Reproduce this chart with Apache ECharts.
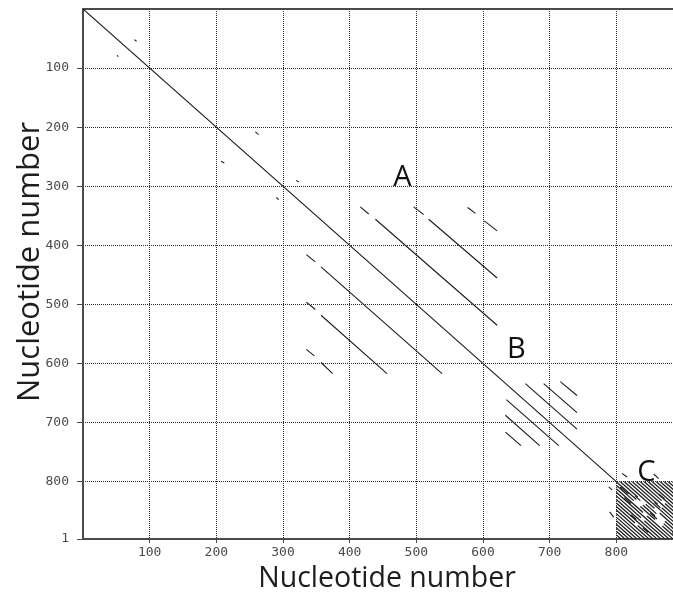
<!DOCTYPE html>
<html>
<head>
<meta charset="utf-8">
<script src="https://cdn.jsdelivr.net/npm/echarts@6/dist/echarts.min.js"></script>
<style>
html,body{margin:0;padding:0;background:#fff;}
#chart{width:673px;height:596px;}
</style>
</head>
<body>
<div id="chart"></div>
<script>
// ---- data (nucleotide positions: [x1, y1, x2, y2]) ----
var xTickLabels = [100, 200, 300, 400, 500, 600, 700, 800];
var yTickLabels = [100, 200, 300, 400, 500, 600, 700, 800];
var xMax = 900;
var yMax = 897;

var mainDiagonal = [[0, 0, 800, 800]];

var clusterAUpper = [
  [416, 335, 428.6, 347],
  [438.6, 355.8, 621.2, 535.2],
  [496, 335, 511, 348],
  [518.5, 355.8, 621.2, 455.2],
  [577, 336, 588.6, 346],
  [602, 358.7, 621.2, 375.6]
];
var clusterALower = [
  [335, 415.6, 348.5, 428],
  [357, 436.5, 538.6, 617],
  [335, 496, 348.5, 508.6],
  [357, 518.3, 456, 617],
  [335, 576, 347, 587],
  [357, 598.3, 374.5, 617]
];
var clusterB = [
  [716, 630.6, 741, 654.2],
  [691, 634, 741, 683],
  [663.6, 634, 741, 711],
  [635, 661, 713.6, 739],
  [633.6, 687.5, 685, 739],
  [633.6, 716, 657, 739]
];
var scattered = [
  [77, 51.8, 80.4, 54.6],
  [51, 78.5, 53, 80.5],
  [258.5, 208, 263.5, 212.5],
  [207, 257.7, 212, 260.6],
  [320, 290, 323.5, 292.7],
  [290, 319, 293.5, 322.5],
  [808.6, 786, 816, 792],
  [856, 787, 863.6, 794.7],
  [788.6, 808.8, 793.6, 814],
  [790, 851, 796, 860]
];
var clusterC = [
  [800, 890, 807, 897],
  [800, 884, 813, 897],
  [800, 878, 819, 897],
  [800, 872, 825, 897],
  [800, 866, 831, 897],
  [800, 860, 837, 897],
  [800, 854, 843, 897],
  [800, 848, 849, 897],
  [800, 842, 828, 870], [832, 874, 855, 897],
  [800, 836, 861, 897],
  [800, 830, 867, 897],
  [800, 824, 837, 861], [842, 866, 873, 897],
  [800, 818, 879, 897],
  [800, 812, 840, 852], [846, 858, 885, 897],
  [800, 806, 826, 832], [836, 842, 858, 864], [869, 875, 891, 897],
  [800, 800, 830, 830], [840, 840, 858, 858], [871, 871, 897, 897],
  [806, 800, 832, 826], [844, 838, 860, 854], [873, 867, 900, 894],
  [812, 800, 857, 845], [865, 853, 900, 888],
  [818, 800, 900, 882],
  [824, 800, 862, 838], [868, 844, 900, 876],
  [830, 800, 900, 870],
  [836, 800, 868, 832], [873, 837, 900, 864],
  [842, 800, 900, 858],
  [848, 800, 900, 852],
  [854, 800, 900, 846],
  [860, 800, 900, 840],
  [866, 800, 900, 834],
  [872, 800, 900, 828],
  [878, 800, 900, 822],
  [884, 800, 900, 816],
  [806, 809, 818, 821], [812, 827, 822, 837], [851, 853, 861, 863],
  [828, 824, 836, 832], [857, 835, 866, 844], [822, 856, 830, 864],
  [884, 886, 892, 894], [864, 821, 872, 829], [840, 878, 848, 886]
];

var annotationLetters = ['A', 'B', 'C'];
var annotationPositions = [[479, 286], [650, 577.5], [845, 785]];

// ---- chart ----
var chart = echarts.init(document.getElementById('chart'), null, {renderer: 'canvas'});

function segSeries(data, lw) {
  return {
    type: 'custom',
    xAxisIndex: 0,
    yAxisIndex: 0,
    silent: true,
    clip: true,
    encode: {x: [0, 2], y: [1, 3]},
    data: data,
    renderItem: function (params, api) {
      var p1 = api.coord([api.value(0), api.value(1)]);
      var p2 = api.coord([api.value(2), api.value(3)]);
      return {
        type: 'line',
        shape: {x1: p1[0], y1: p1[1], x2: p2[0], y2: p2[1]},
        style: {stroke: '#1c1c1c', lineWidth: lw}
      };
    }
  };
}

var tickFont = {fontFamily: 'DejaVu Sans Mono', fontSize: 13, color: '#4a4a4a'};
var yTickValues = yTickLabels.concat([yMax]);

var option = {
  backgroundColor: '#ffffff',
  animation: false,
  grid: {left: 83, top: 9, width: 600, height: 530, containLabel: false, outerBoundsMode: 'none'},
  xAxis: [{
    type: 'value', position: 'bottom', min: 0, max: xMax, interval: 100,
    name: 'Nucleotide number', nameLocation: 'middle', nameGap: 25, nameMoveOverlap: false,
    nameTextStyle: {fontFamily: 'Open Sans', fontSize: 28.5, color: '#1e1e1e', padding: [0, 0, 0, 8]},
    axisLine: {show: true, onZero: false, lineStyle: {color: '#4a4a4a', width: 2}},
    axisTick: {show: true, inside: false, length: 4, customValues: xTickLabels, lineStyle: {color: '#4a4a4a'}},
    axisLabel: Object.assign({}, tickFont, {
      margin: 7,
      customValues: xTickLabels,
      formatter: function (v) { return String(v); }
    }),
    splitLine: {show: true, lineStyle: {color: '#2a2a2a', type: 'dotted', width: 1}}
  }, {
    type: 'value', position: 'top', min: 0, max: xMax, interval: 100,
    axisLine: {show: true, onZero: false, lineStyle: {color: '#4a4a4a', width: 2}},
    axisTick: {show: false}, axisLabel: {show: false}, splitLine: {show: false}
  }],
  yAxis: [{
    type: 'value', inverse: true, min: 0, max: yMax, interval: 100,
    name: 'Nucleotide number', nameLocation: 'middle', nameGap: 37, nameMoveOverlap: false,
    nameTextStyle: {fontFamily: 'Open Sans', fontSize: 31, color: '#1e1e1e', padding: [0, 0, 0, 24]},
    axisLine: {show: true, onZero: false, lineStyle: {color: '#4a4a4a', width: 2}},
    axisTick: {show: true, inside: false, length: 6, customValues: yTickValues, lineStyle: {color: '#4a4a4a'}},
    axisLabel: Object.assign({}, tickFont, {
      margin: 14,
      customValues: yTickValues,
      formatter: function (v) { return v === yMax ? '1' : String(v); }
    }),
    splitLine: {show: true, lineStyle: {color: '#2a2a2a', type: 'dotted', width: 1}}
  }],
  series: [
    segSeries(mainDiagonal, 1.1),
    segSeries(clusterAUpper, 1.1),
    segSeries(clusterALower, 1.1),
    segSeries(clusterB, 1.1),
    segSeries(scattered, 1.1),
    segSeries(clusterC, 1.25),
    {
      type: 'custom',
      silent: true,
      clip: false,
      encode: {x: 0, y: 1},
      data: annotationPositions.map(function (p, i) {
        return [p[0], p[1], annotationLetters[i]];
      }),
      renderItem: function (params, api) {
        var p = api.coord([api.value(0), api.value(1)]);
        return {
          type: 'text',
          x: p[0], y: p[1],
          style: {
            text: annotationLetters[params.dataIndex],
            fontFamily: 'Open Sans', fontSize: 29,
            fill: '#111111', align: 'center', verticalAlign: 'middle'
          }
        };
      }
    }
  ]
};
chart.setOption(option);
</script>
</body>
</html>
